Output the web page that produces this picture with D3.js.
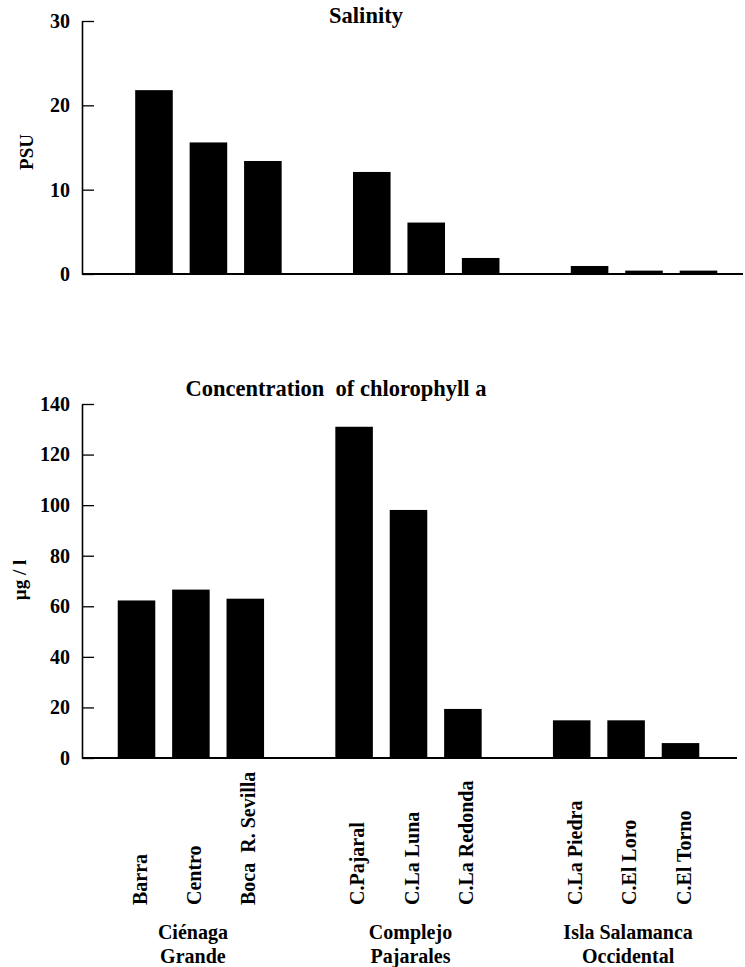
<!DOCTYPE html>
<html>
<head>
<meta charset="utf-8">
<script src="https://cdn.jsdelivr.net/npm/d3@7"></script>
<style>
  body { margin: 0; background: #fff; }
  svg text { font-family: "Liberation Serif", "Times New Roman", Times, serif !important; font-weight: bold; fill: #000; }
</style>
</head>
<body>
<svg width="745" height="967"></svg>
<script>
// stations, in slot order (null = empty slot between groups)
let slots = [null, "Barra", "Centro", "Boca  R. Sevilla", null, "C.Pajaral", "C.La Luna", "C.La Redonda", null, "C.La Piedra", "C.El Loro", "C.El Torno"]
let stations = slots.filter(d => d !== null)
let groups = [["Ciénaga", "Grande"], ["Complejo", "Pajarales"], ["Isla Salamanca", "Occidental"]]
let groupMiddle = ["Centro", "C.La Luna", "C.El Loro"]

// values
let salinity = [21.8, 15.6, 13.4, 12.1, 6.1, 1.9, 0.95, 0.4, 0.4]
let chlorophyll = [62.3, 66.6, 63.0, 131.0, 98.1, 19.4, 14.9, 14.9, 5.9]

let salinityTicks = [0, 10, 20, 30]
let chlTicks = [0, 20, 40, 60, 80, 100, 120, 140]

let svg = d3.select("svg")
let slotKeys = slots.map((d, i) => d === null ? "gap" + i : d)

// draws one panel
function panel(opts) {
    let x = d3.scaleBand()
        .domain(slotKeys)
        .range(opts.xRange)
        .paddingInner(0.31)
        .paddingOuter(0.155)

    let y = d3.scaleLinear()
        .domain(opts.yDomain)
        .range(opts.yRange)

    let g = svg.append("g")

    g.selectAll("rect")
        .data(opts.values)
        .enter()
        .append("rect")
        .attr("x", (d, i) => x(stations[i]))
        .attr("width", x.bandwidth())
        .attr("y", d => y(d))
        .attr("height", d => y(0) - y(d))
        .attr("fill", "#000")

    let axis = d3.axisLeft(y)
        .tickValues(opts.ticks)
        .tickSizeInner(-12)
        .tickSizeOuter(0)
        .tickPadding(12)

    let ax = g.append("g")
        .attr("transform", "translate(" + opts.axisX + ",0)")
        .call(axis)
        .attr("font-family", null)
    ax.select(".domain").attr("stroke-width", 1.6)
    ax.selectAll(".tick line").attr("stroke-width", 1.3)
    ax.selectAll(".tick text")
        .attr("font-size", 20)

    // baseline
    g.append("line")
        .attr("x1", opts.axisX)
        .attr("x2", opts.lineEnd)
        .attr("y1", y(0))
        .attr("y2", y(0))
        .attr("stroke", "#000")
        .attr("stroke-width", 2)

    g.append("text")
        .attr("x", opts.titleX)
        .attr("y", opts.titleY)
        .attr("text-anchor", "middle")
        .attr("font-size", 22.5)
        .style("white-space", "pre")
        .text(opts.title)

    g.append("text")
        .attr("transform", "translate(" + opts.ylabX + "," + opts.ylabY + ") rotate(-90)")
        .attr("text-anchor", "middle")
        .attr("dy", "0.35em")
        .attr("font-size", 19)
        .style("white-space", "pre")
        .text(opts.ylab)

    return x
}

panel({
    values: salinity,
    xRange: [72.3, 725.7],
    yDomain: [0, 30],
    yRange: [274, 21],
    ticks: salinityTicks,
    axisX: 82,
    lineEnd: 743,
    title: "Salinity",
    titleX: 366,
    titleY: 23,
    ylab: "PSU",
    ylabX: 26,
    ylabY: 152
})

let xb = panel({
    values: chlorophyll,
    xRange: [54.9, 707.7],
    yDomain: [0, 140],
    yRange: [758, 404],
    ticks: chlTicks,
    axisX: 82,
    lineEnd: 737,
    title: "Concentration  of chlorophyll a",
    titleX: 336,
    titleY: 396,
    ylab: "µg / l",
    ylabX: 19,
    ylabY: 580
})

// station labels under the bottom bars
svg.append("g")
    .selectAll("text")
    .data(stations)
    .enter()
    .append("text")
    .attr("transform", d => "translate(" + (xb(d) + xb.bandwidth() / 2 + 3) + ",905) rotate(-90)")
    .attr("text-anchor", "start")
    .attr("dy", "0.35em")
    .attr("font-size", 20)
    .style("white-space", "pre")
    .text(d => d)

let grp = svg.append("g")
    .selectAll("text")
    .data(groups)
    .enter()
    .append("text")
    .attr("text-anchor", "middle")
    .attr("font-size", 20)

grp.selectAll("tspan")
    .data((d, i) => d.map(t => ({ t: t, i: i })))
    .enter()
    .append("tspan")
    .attr("x", d => xb(groupMiddle[d.i]) + xb.bandwidth() / 2 + 2)
    .attr("y", (d, j) => 939 + j * 24)
    .text(d => d.t)
</script>
</body>
</html>
